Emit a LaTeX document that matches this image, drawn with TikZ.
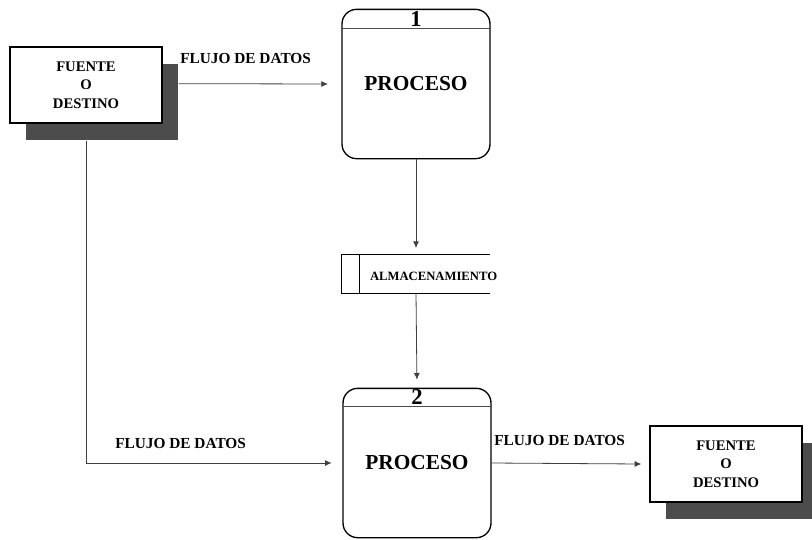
\documentclass[tikz,border=0pt]{standalone}
\usepackage{fontspec}
\setmainfont{Liberation Serif}
\usetikzlibrary{arrows.meta,shadows}

\tikzset{
  fuente/.style={draw,line width=1pt,fill=white,minimum width=114pt,minimum height=57pt,
    align=center,font=\bfseries\fontsize{11}{14}\selectfont,
    drop shadow={shadow xshift=12pt,shadow yshift=-13pt,opacity=1,fill=black!70}},
  proceso/.style={draw,line width=1pt,rounded corners=11pt,minimum width=111pt,
    minimum height=112pt,font=\bfseries\fontsize{16}{18}\selectfont},
  flujo/.style={anchor=west,inner xsep=0pt,font=\bfseries\fontsize{11.5}{13}\selectfont},
  conector/.style={draw=black!75,line width=0.6pt,-{Latex[length=5pt,width=4.5pt]}}
}

\begin{document}
\begin{tikzpicture}[x=0.75pt,y=-0.75pt]
    \useasboundingbox (0,0) rectangle (812,539);
    % Entidades externas
    \node[fuente] (fuente1) at (86,85) {\textbf{FUENTE}\\\textbf{O}\\\textbf{DESTINO}};
    \node[fuente] (fuente2) at (726,464) {\textbf{FUENTE}\\\textbf{O}\\\textbf{DESTINO}};
    % Procesos 1 y 2
    \node[proceso] (proc1) at (416,84) {PROCESO};
    \draw[black!70] ([yshift=-15pt]proc1.north west) -- ([yshift=-15pt]proc1.north east);
    \node[font=\bfseries\fontsize{17}{17}\selectfont,inner sep=0] (num1) at ([yshift=-7.5pt]proc1.north) {1};
    \node[proceso] (proc2) at (417,463) {PROCESO};
    \draw[black!70] ([yshift=-14pt]proc2.north west) -- ([yshift=-14pt]proc2.north east);
    \node[font=\bfseries\fontsize{17}{17}\selectfont,inner sep=0] (num2) at ([yshift=-7pt]proc2.north) {2};
    % Almacenamiento
    \node[minimum width=111pt,minimum height=28.5pt,inner sep=0] (alm) at (416,274) {};
    \draw[line width=0.8pt] (alm.north east) -- (alm.north west) -- (alm.south west) -- (alm.south east);
    \draw[line width=0.6pt] ([xshift=13.5pt]alm.north west) -- ([xshift=13.5pt]alm.south west);
    \node[flujo,font=\bfseries\fontsize{9.5}{11}\selectfont] (almtxt) at ([xshift=21pt,yshift=-1.5pt]alm.west) {ALMACENAMIENTO};
    % Flujos de datos
    \draw[conector] ([xshift=12pt,yshift=1pt]fuente1.east) -- ([xshift=-10pt]proc1.west);
    \draw[conector,shorten >=5pt] (proc1.south) -- (alm.north);
    \draw[conector,shorten >=6pt] (alm.south) -- (proc2.north);
    \draw[conector] ([yshift=-13pt]fuente1.south) |- ([xshift=-8pt]proc2.west);
    \draw[conector] (proc2.east) -- ([xshift=-6pt]fuente2.west);
    \node[flujo] (flujo1) at (180,58) {FLUJO DE DATOS};
    \node[flujo] (flujo2) at (115,443) {FLUJO DE DATOS};
    \node[flujo] (flujo3) at (494,440) {FLUJO DE DATOS};
\end{tikzpicture}
\end{document}
